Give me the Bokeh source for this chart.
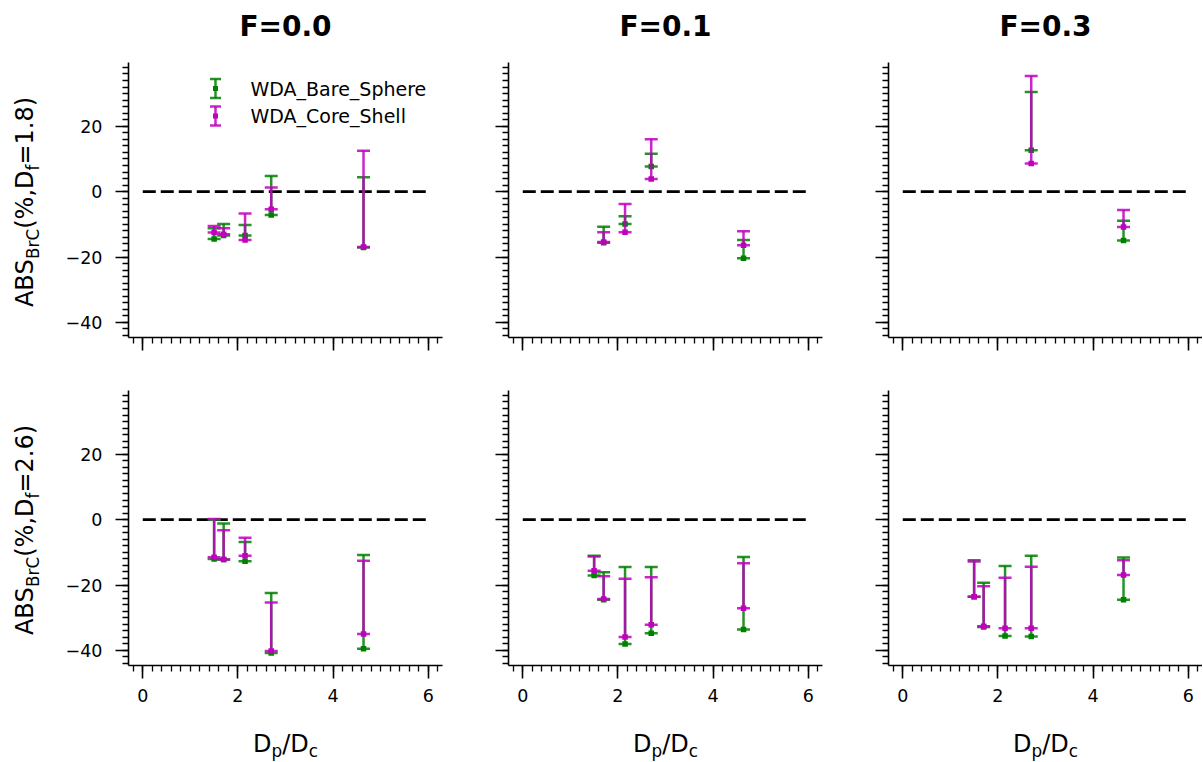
import numpy as np
from bokeh.plotting import figure
from bokeh.models import (Range1d, SingleIntervalTicker, Label, Whisker, TeeHead,
                          BoxAnnotation, ColumnDataSource)
from bokeh.layouts import column, row
from bokeh.embed import file_html
from bokeh.resources import INLINE

NAN = float("nan")

# ---------------- data ----------------
F_TITLES = ["F=0.0", "F=0.1", "F=0.3"]
DF_VALUES = ["1.8", "2.6"]
SERIES_NAMES = ["WDA_Bare_Sphere", "WDA_Core_Shell"]
X = [1.5, 1.7, 2.15, 2.7, 4.64]          # D_p / D_c
REF_X = [0, 6]
REF_Y = [0, 0]
Y_TICK_LABELS = {-40: "\u221240", -20: "\u221220", 0: "0", 20: "20"}
X_TICK_LABELS = {0: "0", 2: "2", 4: "4", 6: "6"}

# Df = 1.8, F = 0.0
BARE_LO_D18_F00 = [-14.5, -13.4, -13.4, -7.1, -17.1]
BARE_HI_D18_F00 = [-11.2, -9.9, -10.2, 4.8, 4.4]
CORE_LO_D18_F00 = [-12.5, -13.0, -14.8, -5.4, -16.9]
CORE_HI_D18_F00 = [-10.5, -11.2, -6.7, 1.3, 12.5]
# Df = 1.8, F = 0.1
BARE_LO_D18_F01 = [NAN, -15.6, -9.9, 7.7, -20.4]
BARE_HI_D18_F01 = [NAN, -10.7, -7.5, 11.6, -14.8]
CORE_LO_D18_F01 = [NAN, -15.4, -12.4, 3.9, -16.4]
CORE_HI_D18_F01 = [NAN, -12.4, -3.8, 16.0, -12.1]
# Df = 1.8, F = 0.3
BARE_LO_D18_F03 = [NAN, NAN, NAN, 12.7, -14.9]
BARE_HI_D18_F03 = [NAN, NAN, NAN, 30.5, -8.9]
CORE_LO_D18_F03 = [NAN, NAN, NAN, 8.6, -10.8]
CORE_HI_D18_F03 = [NAN, NAN, NAN, 35.4, -5.6]
# Df = 2.6, F = 0.0
BARE_LO_D26_F00 = [-12.0, -12.2, -12.7, -40.8, -39.5]
BARE_HI_D26_F00 = [0.0, -1.2, -6.8, -22.4, -10.8]
CORE_LO_D26_F00 = [-11.5, -12.2, -11.0, -40.2, -35.0]
CORE_HI_D26_F00 = [0.2, -3.2, -5.5, -25.3, -12.6]
# Df = 2.6, F = 0.1
BARE_LO_D26_F01 = [-17.1, -24.5, -38.0, -34.7, -33.6]
BARE_HI_D26_F01 = [-11.0, -16.1, -14.5, -14.5, -11.4]
CORE_LO_D26_F01 = [-15.6, -24.3, -35.9, -32.1, -27.1]
CORE_HI_D26_F01 = [-11.3, -17.3, -18.1, -17.6, -13.3]
# Df = 2.6, F = 0.3
BARE_LO_D26_F03 = [-23.6, -32.8, -35.6, -35.7, -24.5]
BARE_HI_D26_F03 = [-12.4, -19.3, -14.2, -11.0, -11.6]
CORE_LO_D26_F03 = [-23.6, -32.6, -33.2, -33.2, -16.9]
CORE_HI_D26_F03 = [-12.8, -20.4, -17.8, -14.4, -12.4]

PANELS = [
    [(BARE_LO_D18_F00, BARE_HI_D18_F00, CORE_LO_D18_F00, CORE_HI_D18_F00),
     (BARE_LO_D18_F01, BARE_HI_D18_F01, CORE_LO_D18_F01, CORE_HI_D18_F01),
     (BARE_LO_D18_F03, BARE_HI_D18_F03, CORE_LO_D18_F03, CORE_HI_D18_F03)],
    [(BARE_LO_D26_F00, BARE_HI_D26_F00, CORE_LO_D26_F00, CORE_HI_D26_F00),
     (BARE_LO_D26_F01, BARE_HI_D26_F01, CORE_LO_D26_F01, CORE_HI_D26_F01),
     (BARE_LO_D26_F03, BARE_HI_D26_F03, CORE_LO_D26_F03, CORE_HI_D26_F03)],
]

# ---------------- style / layout ----------------
GREEN = "#008000"
MAGENTA = "#bf00bf"
ALPHA = 0.85
FONT = "DejaVu Sans"
FW, FH = 314, 275
STRIP_W = 60
BORDER_L = [68, 60, 60]
BORDER_R = [6, 6, 0]
TITLE_H = 62
TOP_T, TOP_B = 0, 30
BOT_T, BOT_B = 23, 42
XSTRIP_H = 55
MAIN, SUB = 24, 16.8
TITLE_SIZE = 28
MID = 0.346          # distance baseline -> middle of the text box, in em
YL_BASE = 33         # baseline of rotated y label, px from strip's left
YL_SUB = 5           # subscript drop
XL_BASE = 10         # baseline of x label, px above strip bottom
XL_SUB = 4
TITLE_BASE = 26      # baseline of titles, px above title strip bottom

# DejaVu Sans advance widths (em) for label composition
ADV = {'A': 0.684, 'B': 0.686, 'S': 0.635, 'r': 0.411, 'C': 0.698, '(': 0.390,
       '%': 0.950, ',': 0.318, 'D': 0.770, 'f': 0.352, '=': 0.838, '1': 0.636,
       '.': 0.318, '8': 0.636, '2': 0.636, '6': 0.636, ')': 0.390, 'p': 0.635,
       '/': 0.337, 'c': 0.550}


def tw(s, size):
    return sum(ADV[c] for c in s) * size


def blank(width, height):
    s = figure(output_backend="svg", toolbar_location=None, width=width, height=height,
               x_axis_type=None, y_axis_type=None, min_border=0, title=None,
               x_range=Range1d(0, 1), y_range=Range1d(0, 1),
               background_fill_color="white", border_fill_color="white")
    s.outline_line_color = None
    s.grid.visible = False
    return s


def ylabel_strip(height, df):
    # the row layout aligns this strip's frame with the panels' frames
    s = blank(STRIP_W, height)
    pieces = [("ABS", False), ("BrC", True), ("(%,D", False), ("f", True), ("=" + df + ")", False)]
    total = sum(tw(t, SUB if sb else MAIN) for t, sb in pieces)
    y = FH / 2 - 2 - total / 2
    for t, sb in pieces:
        size = SUB if sb else MAIN
        base = YL_BASE + (YL_SUB if sb else 0)
        s.add_layout(Label(x=base - MID * size, y=y, x_units="screen", y_units="screen",
                           text=t, angle=np.pi / 2, text_font=FONT, text_font_size=f"{size}px",
                           text_align="left", text_baseline="middle", text_color="black"))
        y += tw(t, size)
    return s


def xlabel_strip(total_width, centers):
    s = blank(total_width, XSTRIP_H)
    pieces = [("D", False), ("p", True), ("/D", False), ("c", True)]
    total = sum(tw(t, SUB if sb else MAIN) for t, sb in pieces)
    for cx in centers:
        x = cx - total / 2
        for t, sb in pieces:
            size = SUB if sb else MAIN
            base = XL_BASE - (XL_SUB if sb else 0)
            s.add_layout(Label(x=x, y=base + MID * size, x_units="screen", y_units="screen",
                               text=t, text_font=FONT, text_font_size=f"{size}px",
                               text_align="left", text_baseline="middle", text_color="black"))
            x += tw(t, size)
    return s


def title_strip(total_width, centers):
    s = blank(total_width, TITLE_H)
    for cx, t in zip(centers, F_TITLES):
        s.add_layout(Label(x=cx, y=TITLE_BASE + MID * TITLE_SIZE, x_units="screen", y_units="screen",
                           text=t, text_font=FONT, text_font_size=f"{TITLE_SIZE}px",
                           text_font_style="bold", text_align="center",
                           text_baseline="middle", text_color="black"))
    return s


def add_legend(p):
    rows_ = [(SERIES_NAMES[0], GREEN, 249.0), (SERIES_NAMES[1], MAGENTA, 221.5)]
    for name, col, yc in rows_:
        src = ColumnDataSource(dict(base=[87.0], lower=[yc - 9.5], upper=[yc + 9.5]))
        p.add_layout(Whisker(source=src, base="base", lower="lower", upper="upper",
                             base_units="screen", lower_units="screen", upper_units="screen",
                             dimension="height", line_color=col, line_alpha=ALPHA, line_width=2.5,
                             upper_head=TeeHead(size=11, line_color=col, line_alpha=ALPHA, line_width=2.5),
                             lower_head=TeeHead(size=11, line_color=col, line_alpha=ALPHA, line_width=2.5)))
        p.add_layout(BoxAnnotation(left=84.5, right=89.5, bottom=yc - 2.5, top=yc + 2.5,
                                   left_units="screen", right_units="screen",
                                   bottom_units="screen", top_units="screen",
                                   fill_color=col, fill_alpha=1.0, line_color=None))
        p.add_layout(Label(x=122, y=yc, x_units="screen", y_units="screen", text=name,
                           text_font=FONT, text_font_size="19px", text_align="left",
                           text_baseline="middle", text_color="black"))


def draw_series(p, lo, hi, col):
    src = ColumnDataSource(dict(x=np.array(X, dtype=float), lo=np.array(lo, dtype=float),
                                hi=np.array(hi, dtype=float)))
    p.segment(x0="x", y0="lo", x1="x", y1="hi", source=src, line_color=col,
              line_alpha=ALPHA, line_width=2.5)
    p.scatter(x="x", y="lo", source=src, marker="dash", size=13, line_color=col,
              line_alpha=ALPHA, line_width=2.5)
    p.scatter(x="x", y="hi", source=src, marker="dash", size=13, line_color=col,
              line_alpha=ALPHA, line_width=2.5)
    p.scatter(x="x", y="lo", source=src, marker="square", size=5.5, line_color=None,
              fill_color=col, fill_alpha=1.0)


def make_panel(r, c):
    top = r == 0
    p = figure(output_backend="svg", toolbar_location=None, title=None,
               x_range=Range1d(-0.3, 6.3), y_range=Range1d(-44.6, 39.5),
               frame_width=FW, frame_height=FH,
               min_border_left=BORDER_L[c], min_border_right=BORDER_R[c],
               min_border_top=TOP_T if top else BOT_T,
               min_border_bottom=TOP_B if top else BOT_B,
               background_fill_color="white", border_fill_color="white")
    p.outline_line_color = None
    p.grid.visible = False

    for ax in (p.xaxis, p.yaxis):
        ax.axis_line_width = 1.6
        ax.axis_line_color = "black"
        ax.major_tick_line_width = 1.6
        ax.minor_tick_line_width = 1.3
        ax.major_tick_line_color = "black"
        ax.minor_tick_line_color = "black"
        ax.major_tick_out = 13
        ax.major_tick_in = 0
        ax.minor_tick_out = 6
        ax.minor_tick_in = 0
        ax.major_label_text_font = FONT
        ax.major_label_text_font_size = "17.5px"
        ax.major_label_text_color = "black"
    p.xaxis.ticker = SingleIntervalTicker(interval=2, num_minor_ticks=10)
    p.yaxis.ticker = SingleIntervalTicker(interval=20, num_minor_ticks=10)
    p.yaxis.major_label_standoff = 13
    p.xaxis.major_label_standoff = 10

    if c == 0:
        p.yaxis.major_label_overrides = Y_TICK_LABELS
    else:
        p.yaxis.major_label_overrides = {k: "" for k in Y_TICK_LABELS}
    if top:
        p.xaxis.major_label_overrides = {k: "" for k in X_TICK_LABELS}
    else:
        p.xaxis.major_label_overrides = X_TICK_LABELS

    p.line(x=REF_X, y=REF_Y, line_color="black", line_width=2.6, line_dash="13 5")

    bare_lo, bare_hi, core_lo, core_hi = PANELS[r][c]
    draw_series(p, bare_lo, bare_hi, GREEN)
    draw_series(p, core_lo, core_hi, MAGENTA)

    if r == 0 and c == 0:
        add_legend(p)
    return p


top_h = TOP_T + FH + TOP_B
bot_h = BOT_T + FH + BOT_B
fig_w = [BORDER_L[c] + FW + BORDER_R[c] for c in range(3)]
centers = []
acc = STRIP_W
for c in range(3):
    centers.append(acc + BORDER_L[c] + FW / 2)
    acc += fig_w[c]

row_title = title_strip(acc, centers)
row_top = row(ylabel_strip(top_h, DF_VALUES[0]), *[make_panel(0, c) for c in range(3)])
row_bot = row(ylabel_strip(bot_h, DF_VALUES[1]), *[make_panel(1, c) for c in range(3)])
row_x = xlabel_strip(acc, centers)
layout = column(row_title, row_top, row_bot, row_x)

open("out.html", "w").write(file_html(layout, INLINE))
